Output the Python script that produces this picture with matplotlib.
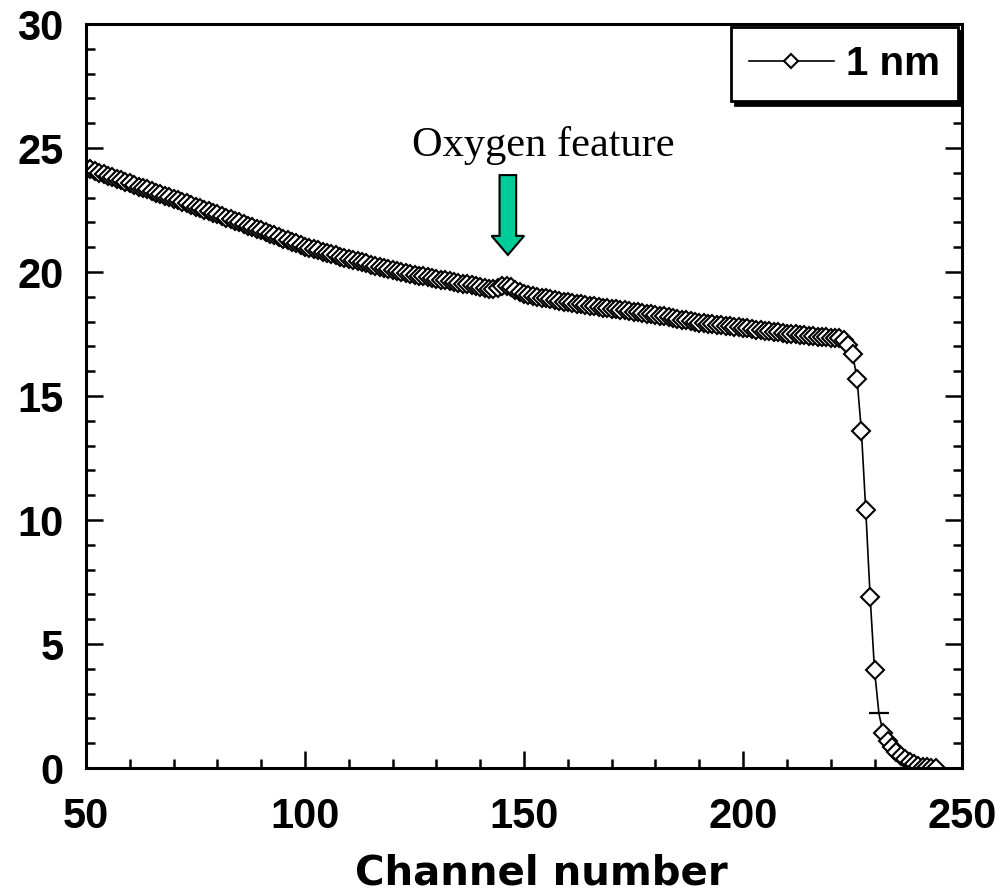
import numpy as np
import matplotlib
matplotlib.use("Agg")
import matplotlib.pyplot as plt
from matplotlib.ticker import MultipleLocator

# channel number vs. counts
channels = np.arange(50, 245)
counts = [
    24.20, 24.14, 24.07, 24.01, 23.95, 23.89, 23.82, 23.76, 23.70, 23.64,
    23.58, 23.51, 23.45, 23.39, 23.33, 23.27, 23.20, 23.14, 23.08, 23.02,
    22.96, 22.89, 22.83, 22.77, 22.70, 22.64, 22.58, 22.52, 22.45, 22.39,
    22.33, 22.26, 22.20, 22.13, 22.07, 22.00, 21.94, 21.87, 21.81, 21.74,
    21.68, 21.61, 21.55, 21.48, 21.42, 21.35, 21.29, 21.22, 21.16, 21.09,
    21.02, 20.97, 20.92, 20.87, 20.82, 20.77, 20.72, 20.67, 20.62, 20.57,
    20.52, 20.48, 20.43, 20.39, 20.35, 20.30, 20.26, 20.21, 20.17, 20.12,
    20.08, 20.04, 20.01, 19.97, 19.94, 19.90, 19.86, 19.83, 19.79, 19.76,
    19.72, 19.69, 19.66, 19.62, 19.59, 19.56, 19.53, 19.50, 19.46, 19.43,
    19.40, 19.36, 19.33, 19.30, 19.36, 19.42, 19.45, 19.40, 19.28, 19.18,
    19.10, 19.07, 19.03, 19.00, 18.97, 18.94, 18.91, 18.88, 18.84, 18.81,
    18.78, 18.75, 18.73, 18.70, 18.67, 18.65, 18.62, 18.60, 18.57, 18.55,
    18.52, 18.50, 18.47, 18.45, 18.42, 18.40, 18.37, 18.35, 18.32, 18.30,
    18.27, 18.24, 18.21, 18.17, 18.14, 18.11, 18.08, 18.05, 18.01, 17.98,
    17.95, 17.93, 17.91, 17.89, 17.87, 17.85, 17.83, 17.81, 17.79, 17.77,
    17.75, 17.73, 17.70, 17.68, 17.66, 17.64, 17.61, 17.59, 17.57, 17.54,
    17.52, 17.50, 17.49, 17.47, 17.45, 17.44, 17.42, 17.40, 17.39, 17.37,
    17.36, 17.34, 17.33, 17.25, 17.05, 16.70, 15.70, 13.60, 10.40, 6.90,
    3.95, 2.20, 1.40, 1.10, 0.85, 0.65, 0.48, 0.35, 0.25, 0.16,
    0.10, 0.06, 0.03, 0.02, 0.01,
]
odd_channel = 231  # drawn with a dash instead of a diamond
series_label = "1 nm"
note_text = "Oxygen feature"
note_channel = 146.3

plt.rcParams["font.family"] = ["Liberation Sans", "DejaVu Sans"]
plt.rcParams["font.weight"] = "bold"

fig = plt.figure(figsize=(9.99, 8.92), dpi=100)
ax = fig.add_axes([0.0861, 0.139, 0.877, 0.834])

counts = np.array(counts)
odd_idx = int(np.where(channels == odd_channel)[0][0])
keep = [i for i in range(len(channels)) if i != odd_idx]

ax.plot(channels, counts, color="black", lw=1.2, marker="D", ms=9.5,
        mfc="white", mec="black", mew=1.5, markevery=keep, label=series_label)
ax.plot(channels[odd_idx], counts[odd_idx], marker="_", ms=14, mew=1.6,
        color="black", ls="none")

ax.set_xlim(50, 250)
ax.set_ylim(0, 30)
ax.xaxis.set_major_locator(MultipleLocator(50))
ax.xaxis.set_minor_locator(MultipleLocator(10))
ax.yaxis.set_major_locator(MultipleLocator(5))
ax.yaxis.set_minor_locator(MultipleLocator(1))
ax.tick_params(which="both", direction="in", top=False, right=True, width=1.8)
ax.tick_params(which="major", length=12)
ax.tick_params(which="minor", length=6.5)
ax.tick_params(axis="x", which="major", labelsize=30, pad=21)
ax.tick_params(axis="y", which="major", labelsize=30, pad=16)
for sp in ax.spines.values():
    sp.set_linewidth(2.2)

ax.set_xlabel("Channel number", fontsize=29, fontweight="bold",
              family="DejaVu Sans")
ax.xaxis.set_label_coords(0.52, -0.115)

# annotation arrow and text
ax.arrow(note_channel, 23.91, 0, -3.22, width=3.8, head_width=7.45,
         head_length=0.77, length_includes_head=True, fc="#00CC99",
         ec="black", lw=1.5, zorder=4)
ax.text(154.3, 25.1, note_text, family="Liberation Serif",
        fontweight="normal", fontsize=30.5, ha="center", va="center")

leg = ax.legend(loc="upper right", bbox_to_anchor=(0.995, 0.996),
                fontsize=29, frameon=True, fancybox=False,
                shadow={"color": "black", "alpha": 1.0, "ox": 3, "oy": -3},
                handlelength=2.1, handletextpad=0.3, borderpad=0.45,
                borderaxespad=0.0, markerscale=0.7)
leg.get_frame().set_edgecolor("black")
leg.get_frame().set_linewidth(2.0)

fig.savefig("out.png", dpi=100)
